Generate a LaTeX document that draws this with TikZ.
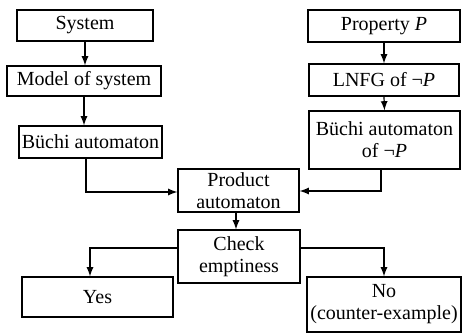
\documentclass[tikz,border=0pt]{standalone}
\usepackage{fontspec}
\setmainfont{Liberation Serif}
\usepackage{tikz}
\usetikzlibrary{arrows,positioning,calc}
\tikzset{
    stage/.style={
    rectangle,draw=black,line width=0.6pt,inner sep=0pt,align=center,
    font=\fontsize{10}{11}\selectfont
    },
    flow/.style={
    ->,>=latex,line width=0.6pt
    },
}
\begin{document}
\begin{tikzpicture}[x=0.5pt, y=-0.5pt]
   \useasboundingbox (0,0) rectangle (462,335);
   % left branch
   \node[stage,minimum width=68pt,minimum height=15.5pt] (sys) at (85,25.5) {System};
   \node[stage,minimum width=77pt,minimum height=15pt] (model) at (84,81) {Model of system};
   \node[stage,minimum width=71.5pt,minimum height=16pt] (ba) at (90.5,142) {B\"uchi automaton};
   % right branch
   \node[stage,minimum width=76pt,minimum height=16pt] (prop) at (384,26) {Property \textit{P}};
   \node[stage,minimum width=75pt,minimum height=16pt] (lnfg) at (384,80) {LNFG of ¬\textit{P}};
   \node[stage,minimum width=75.5pt,minimum height=29pt] (bnp) at (384.5,140) {B\"uchi automaton\\of ¬\textit{P}};
   % middle
   \node[stage,minimum width=60.5pt,minimum height=21.5pt] (prod) at (238.5,190.5) {Product\\automaton};
   \node[stage,minimum width=61pt,minimum height=26.5pt] (check) at (239,256.5) {Check\\emptiness};
   \node[stage,minimum width=75.5pt,minimum height=20pt] (yes) at (97.5,297) {Yes};
   \node[stage,minimum width=77pt,minimum height=27.5pt] (no) at (384,304.5) {No\\(counter-example)};

  \draw[flow] (sys.south) -- (sys.south |- model.north);
  \draw[flow] (model.south) -- (model.south |- ba.north);
  \draw[flow] (prop.south) -- (lnfg.north);
  \draw[flow] (lnfg.south) -- (bnp.north);
  \draw[flow] ([xshift=-2.25pt]ba.south) |- ([yshift=-0.75pt]prod.west);
  \draw[flow] ([xshift=-1.75pt]bnp.south) |- ([yshift=-0.25pt]prod.east);
  \draw[flow] ([xshift=-1.25pt]prod.south) -- ([xshift=-1.25pt]prod.south |- check.north);
  \draw[flow] ([yshift=4.25pt]check.west) -| ([xshift=-3.75pt]yes.north);
  \draw[flow] ([yshift=4.25pt]check.east) -| (no.north);
\end{tikzpicture}
\end{document}
